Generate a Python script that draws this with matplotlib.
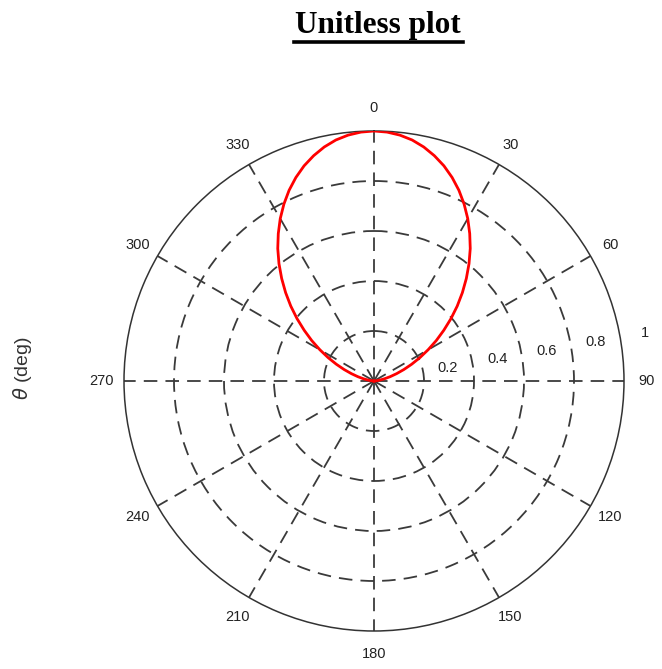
import numpy as np
import matplotlib
matplotlib.use("Agg")
import matplotlib.pyplot as plt
from matplotlib.lines import Line2D

# pattern (deg, unitless amplitude), symmetric about 0 deg
theta_half = [0, 3, 6, 9, 12, 15, 18, 21, 24, 27, 30, 33, 36, 39, 42, 45,
              48, 51, 54, 57, 60, 63, 66, 69, 72, 75, 78, 81, 84, 87, 90]
r_half = [1.0, 0.997, 0.989, 0.976, 0.957, 0.933, 0.905, 0.872, 0.835, 0.794, 0.75,
          0.703, 0.655, 0.604, 0.552, 0.5, 0.448, 0.396, 0.345, 0.297, 0.25,
          0.206, 0.165, 0.128, 0.095, 0.067, 0.043, 0.024, 0.011, 0.003, 0.0]
theta_deg = [-t for t in theta_half[::-1]] + theta_half[1:]
r_vals = r_half[::-1] + r_half[1:]

r_ticks = [0.2, 0.4, 0.6, 0.8, 1.0]
r_labels = ["0.2", "0.4", "0.6", "0.8", "1"]
theta_ticks = [0, 30, 60, 90, 120, 150, 180, 210, 240, 270, 300, 330]

plt.rcParams['font.family'] = ['Liberation Sans', 'DejaVu Sans']

fig = plt.figure(figsize=(6.62, 6.69), dpi=100)
ax = fig.add_axes([124/662, 38/669, 500/662, 500/669], projection='polar')

ax.set_theta_zero_location('N')
ax.set_theta_direction(-1)

ax.plot(np.deg2rad(theta_deg), r_vals, color='red', lw=2, zorder=5)

ax.set_ylim(0, 1)
ax.set_yticks(r_ticks[:-1])
ax.set_yticklabels([])
ax.set_xticks(np.deg2rad(theta_ticks))
ax.set_xticklabels([str(t) for t in theta_ticks], fontsize=10.5, color='#222222')
ax.tick_params(axis='x', pad=6)
ax.grid(True, color='#3a3a3a', lw=1.3, linestyle=(0, (7.5, 4.5)))
ax.spines['polar'].set_color('#333333')
ax.spines['polar'].set_linewidth(1.1)

for v, lab in zip(r_ticks, r_labels):
    ax.text(np.deg2rad(80), v + 0.1, lab, ha='center', va='center',
            fontsize=10.5, color='#222222')

fig.text(22/662, 1 - 368/669, r'$\theta$ (deg)', rotation=90, ha='center', va='center',
         fontsize=14, color='#333333')

fig.text(378/662, 1 - 26/669, 'Unitless plot', ha='center', va='center',
         fontsize=22.5, fontweight='bold', family='Liberation Serif')
fig.add_artist(Line2D([294/662, 463/662], [1 - 42/669, 1 - 42/669], color='black', lw=2.6))

fig.savefig('out.png', dpi=100)
